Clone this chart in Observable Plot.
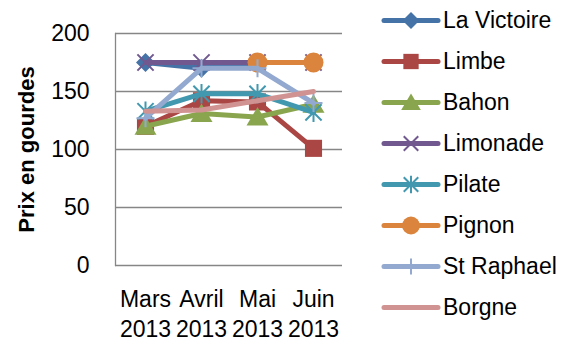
<!DOCTYPE html>
<html>
<head>
<meta charset="utf-8">
<script src="https://cdn.jsdelivr.net/npm/d3@7"></script>
<script src="https://cdn.jsdelivr.net/npm/@observablehq/plot@0.6"></script>
<style>
  html, body { margin: 0; padding: 0; background: #fff; }
  #wrap { position: relative; width: 574px; height: 343px; font-family: "Liberation Sans", Arial, sans-serif; }
  #legend { position: absolute; left: 381px; top: 0; }
  .item { display: flex; align-items: center; height: 41px; }
  .item span { font-size: 23px; color: #000; margin-left: 2px; white-space: nowrap; }
</style>
</head>
<body>
<div id="wrap"><div id="chart"></div><div id="legend"></div></div>
<script>
const months = ["Mars\n2013", "Avril\n2013", "Mai\n2013", "Juin\n2013"];
const seriesNames = ["La Victoire", "Limbe", "Bahon", "Limonade", "Pilate", "Pignon", "St Raphael", "Borgne"];
const laVictoire = [175, 170, 175, 175];
const limbe      = [120, 142, 141, 101];
const bahon      = [120, 131, 128, 139];
const limonade   = [175, 175, 175, 175];
const pilate     = [133, 148, 148, 132];
const pignon     = [null, null, 175, 175];
const stRaphael  = [127, 170, 170, 140];
const borgne     = [133, 134, 142, 150];
const yTicks = [0, 50, 100, 150, 200];
const colors = ["#4572A7", "#AA4643", "#89A54E", "#71588F", "#4198AF", "#DB843D", "#93A9CF", "#D19392"];

const values = [laVictoire, limbe, bahon, limonade, pilate, pignon, stRaphael, borgne];

// custom marker shapes (size = PI*r*r)
const rOf = s => Math.sqrt(s / Math.PI);
const symDiamond = {draw(c, s) { const r = rOf(s); c.moveTo(0, -r); c.lineTo(r, 0); c.lineTo(0, r); c.lineTo(-r, 0); c.closePath(); }};
const symSquare = {draw(c, s) { const r = rOf(s) * 0.95; c.rect(-r, -r, 2 * r, 2 * r); }};
const symTriangle = {draw(c, s) { const r = rOf(s); c.moveTo(0, -r); c.lineTo(r * 1.1, r * 0.85); c.lineTo(-r * 1.1, r * 0.85); c.closePath(); }};
const symTimes = {draw(c, s) { const r = rOf(s) * 0.9; c.moveTo(-r, -r); c.lineTo(r, r); c.moveTo(r, -r); c.lineTo(-r, r); }};
const symStar = {draw(c, s) { const r = rOf(s) * 0.9; c.moveTo(-r, -r); c.lineTo(r, r); c.moveTo(r, -r); c.lineTo(-r, r); c.moveTo(0, -r * 1.2); c.lineTo(0, r * 1.2); }};
const symCircle = {draw(c, s) { const r = rOf(s); c.moveTo(r, 0); c.arc(0, 0, r, 0, 2 * Math.PI); }};
const symPlus = {draw(c, s) { const r = rOf(s); c.moveTo(0, -r); c.lineTo(0, r); c.moveTo(-r, 0); c.lineTo(r, 0); }};
const symbols = [symDiamond, symSquare, symTriangle, symTimes, symStar, symCircle, symPlus, null];
const filled = [true, true, true, false, false, true, false, false];
const radii = [9.5, 9, 10, 9, 9, 10, 9, 0];

const rows = [];
seriesNames.forEach((name, i) => {
  months.forEach((m, j) => {
    if (values[i][j] != null) rows.push({series: name, idx: i, month: m, value: values[i][j]});
  });
});

const marks = [
  Plot.ruleY(yTicks, {stroke: "#868686", strokeWidth: 1.3}),
  Plot.frame({anchor: "left", stroke: "#868686", strokeWidth: 1.3})
];
seriesNames.forEach((name, i) => {
  const d = rows.filter(r => r.idx === i);
  marks.push(Plot.line(d, {x: "month", y: "value", stroke: colors[i], strokeWidth: 5, strokeLinejoin: "round", strokeLinecap: "round"}));
  if (symbols[i]) {
    marks.push(Plot.dot(d, {
      x: "month", y: "value", symbol: symbols[i], r: radii[i],
      fill: filled[i] ? colors[i] : "none",
      stroke: filled[i] ? "none" : colors[i],
      strokeWidth: filled[i] ? 0 : 2
    }));
  }
});

const chart = Plot.plot({
  width: 360,
  height: 343,
  marginLeft: 115,
  marginRight: 18,
  marginTop: 33,
  marginBottom: 78,
  style: {fontFamily: "Liberation Sans, Arial, sans-serif", fontSize: "23px", color: "#000", background: "#fff", overflow: "visible"},
  x: {type: "point", domain: months, padding: 0.5, label: null},
  y: {domain: [0, 200], ticks: yTicks, label: null},
  marks: [
    ...marks,
    Plot.axisY({ticks: yTicks, tickSize: 0, tickPadding: 26, fontSize: 23, label: null}),
    Plot.axisX({tickSize: 0, tickPadding: 21, fontSize: 23, lineHeight: 1.28, label: null}),
    Plot.text(["Prix en gourdes"], {frameAnchor: "left", textAnchor: "middle", dx: -89, rotate: -90, fontSize: 22, fontWeight: "bold", fill: "#000"})
  ]
});
document.getElementById("chart").appendChild(chart);

// legend
const legend = d3.select("#legend");
seriesNames.forEach((name, i) => {
  const item = legend.append("div").attr("class", "item");
  const s = item.append("svg").attr("width", 60).attr("height", 41);
  s.append("line").attr("x1", 3).attr("x2", 57).attr("y1", 20.5).attr("y2", 20.5)
    .attr("stroke", colors[i]).attr("stroke-width", 5).attr("stroke-linecap", "round");
  if (symbols[i]) {
    const p = d3.symbol().type(symbols[i]).size(Math.PI * radii[i] * radii[i] * 0.8)();
    s.append("path").attr("d", p).attr("transform", "translate(30,20.5)")
      .attr("fill", filled[i] ? colors[i] : "none")
      .attr("stroke", filled[i] ? "none" : colors[i])
      .attr("stroke-width", filled[i] ? 0 : 2);
  }
  item.append("span").text(name);
});
</script>
</body>
</html>
